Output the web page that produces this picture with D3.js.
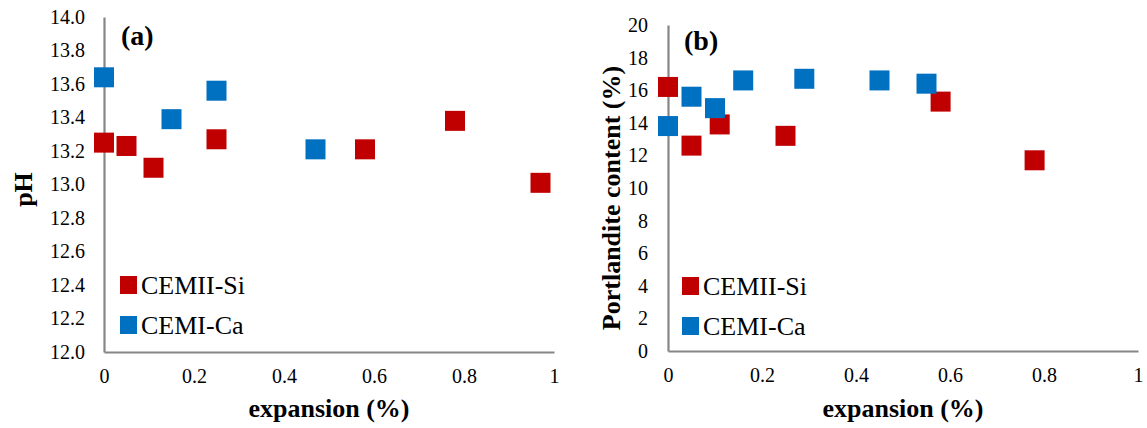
<!DOCTYPE html>
<html>
<head>
<meta charset="utf-8">
<script src="https://cdn.jsdelivr.net/npm/d3@7"></script>
<style>
  body { margin: 0; background: #fff; }
  svg { display: block; }
</style>
</head>
<body>
<svg id="chart" width="1147" height="428"></svg>
<script>
// ---- Data ----
const seriesNames = ["CEMII-Si", "CEMI-Ca"];
const seriesColors = ["#C00000", "#0070C0"];

// Panel (a): pH vs expansion
const phSiExpansion = [0, 0.05, 0.11, 0.25, 0.58, 0.78, 0.97];
const phSiValues    = [13.25, 13.23, 13.10, 13.27, 13.21, 13.38, 13.01];
const phCaExpansion = [0, 0.15, 0.25, 0.47];
const phCaValues    = [13.64, 13.39, 13.56, 13.21];

// Panel (b): Portlandite content vs expansion
const ptSiExpansion = [0, 0.05, 0.11, 0.25, 0.58, 0.78];
const ptSiValues    = [16.2, 12.6, 13.9, 13.2, 15.3, 11.7];
const ptCaExpansion = [0, 0.05, 0.10, 0.16, 0.29, 0.45, 0.55];
const ptCaValues    = [13.8, 15.6, 14.9, 16.6, 16.7, 16.6, 16.4];

const xTicks = [0, 0.2, 0.4, 0.6, 0.8, 1];
const phTicks = [12.0, 12.2, 12.4, 12.6, 12.8, 13.0, 13.2, 13.4, 13.6, 13.8, 14.0];
const ptTicks = [0, 2, 4, 6, 8, 10, 12, 14, 16, 18, 20];

const FONT = "Liberation Serif";
const svg = d3.select("#chart").attr("font-family", FONT);
const axisColor = "#868686";

function panel(opts) {
  const x = d3.scaleLinear().domain([0, 1]).range([opts.x0, opts.x1]);
  const y = d3.scaleLinear().domain(opts.yDomain).range([opts.yBottom, opts.yTop]);
  const g = svg.append("g");

  const ya = g.append("g")
    .attr("transform", `translate(${opts.x0},0)`)
    .call(d3.axisLeft(y).tickValues(opts.yTicks).tickFormat(opts.yFmt).tickSize(0).tickPadding(opts.yPad));
  const xa = g.append("g")
    .attr("transform", `translate(0,${opts.yBottom})`)
    .call(d3.axisBottom(x).tickValues(xTicks).tickFormat(d3.format("~g")).tickSize(0).tickPadding(17));
  [ya, xa].forEach(a => {
    a.attr("font-family", FONT).attr("font-size", 20);
    a.select(".domain").attr("stroke", axisColor).attr("stroke-width", 2.2);
    a.selectAll("text").attr("fill", "#000");
  });

  const s = 20;
  opts.series.forEach((ser, i) => {
    g.append("g").selectAll("rect")
      .data(ser.xs.map((v, k) => [v, ser.ys[k]]))
      .join("rect")
      .attr("x", d => x(d[0]) - s / 2)
      .attr("y", d => y(d[1]) - s / 2)
      .attr("width", s).attr("height", s)
      .attr("fill", seriesColors[i]);
  });

  g.append("text").attr("x", opts.labelX).attr("y", opts.labelY)
    .attr("font-size", 28).attr("font-weight", "bold").text(opts.label);

  seriesNames.forEach((name, i) => {
    const ly = opts.legendY + i * 40;
    g.append("rect").attr("x", opts.legendX).attr("y", ly).attr("width", 17).attr("height", 18)
      .attr("fill", seriesColors[i]);
    g.append("text").attr("x", opts.legendX + 21).attr("y", ly + 18)
      .attr("font-size", 26).text(name);
  });

  g.append("text").attr("x", (opts.x0 + opts.x1) / 2).attr("y", 417)
    .attr("text-anchor", "middle").attr("font-size", 26).attr("font-weight", "bold")
    .text("expansion (%)");
  g.append("text")
    .attr("transform", `translate(${opts.yTitleX},${(opts.yTop + opts.yBottom) / 2 + opts.yTitleDy}) rotate(-90)`)
    .attr("text-anchor", "middle").attr("font-size", 26).attr("font-weight", "bold")
    .text(opts.yTitle);
}

panel({
  x0: 104, x1: 554, yTop: 17, yBottom: 352, yDomain: [12, 14], yTicks: phTicks,
  yFmt: d3.format(".1f"), yPad: 19,
  series: [{xs: phSiExpansion, ys: phSiValues}, {xs: phCaExpansion, ys: phCaValues}],
  label: "(a)", labelX: 121, labelY: 45,
  legendX: 120, legendY: 276,
  yTitle: "pH", yTitleX: 32, yTitleDy: 5
});

panel({
  x0: 668, x1: 1138, yTop: 25, yBottom: 351, yDomain: [0, 20], yTicks: ptTicks,
  yFmt: d3.format("d"), yPad: 20,
  series: [{xs: ptSiExpansion, ys: ptSiValues}, {xs: ptCaExpansion, ys: ptCaValues}],
  label: "(b)", labelX: 684, labelY: 50,
  legendX: 682, legendY: 277,
  yTitle: "Portlandite content (%)", yTitleX: 620, yTitleDy: 10
});
</script>
</body>
</html>
